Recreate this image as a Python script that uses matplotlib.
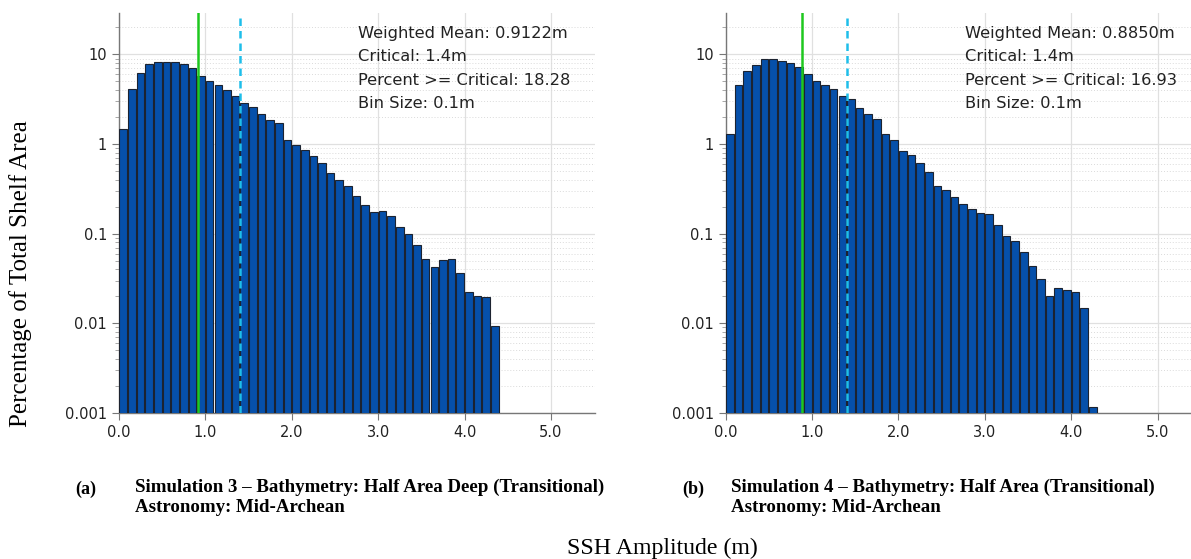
import numpy as np
import matplotlib
matplotlib.use("Agg")
import matplotlib.pyplot as plt
from matplotlib.ticker import LogLocator, FixedLocator, NullFormatter

# bin size 0.1 m, bars start at 0.0
bin_size = 0.1

# percent of total shelf area per bin
sim3_pct = [1.49, 4.11, 6.15, 7.75, 8.2, 8.2, 8.15, 7.87, 7.1, 5.74,
            5.01, 4.52, 4.04, 3.41, 2.87, 2.57, 2.16, 1.87, 1.70, 1.11,
            0.967, 0.85, 0.746, 0.623, 0.479, 0.393, 0.34, 0.267, 0.21, 0.174,
            0.18, 0.156, 0.12, 0.0997, 0.075, 0.0516, 0.043, 0.0507, 0.0516, 0.036,
            0.0221, 0.020, 0.0198, 0.0093]
sim4_pct = [1.31, 4.59, 6.58, 7.54, 8.79, 8.79, 8.5, 8.08, 7.16, 6.04,
            5.0, 4.55, 4.14, 3.46, 3.2, 2.54, 2.18, 1.93, 1.30, 1.11,
            0.835, 0.754, 0.623, 0.494, 0.345, 0.311, 0.256, 0.216, 0.19, 0.17,
            0.164, 0.124, 0.095, 0.083, 0.063, 0.0435, 0.031, 0.0201, 0.0249, 0.0234,
            0.0226, 0.015, 0.00118]

weighted_mean = [0.9122, 0.8850]
critical = 1.4
pct_above = [18.28, 16.93]

panel_tags = ["(a)", "(b)"]
captions = ["Simulation 3 \u2013 Bathymetry: Half Area Deep (Transitional)\nAstronomy: Mid-Archean",
            "Simulation 4 \u2013 Bathymetry: Half Area (Transitional)\nAstronomy: Mid-Archean"]

BAR = "#0650aa"
GREEN = "#1ec81e"
CYAN = "#1ebeea"

fig = plt.figure(figsize=(11.91, 5.59), dpi=100)
ax_pos = [[0.0999, 0.2612, 0.3997, 0.7155],
          [0.6093, 0.2612, 0.3997, 0.7155]]
tag_x = [0.063, 0.573]
cap_x = [0.1134, 0.6138]

for i, pct in enumerate([sim3_pct, sim4_pct]):
    ax = fig.add_axes(ax_pos[i])
    left = np.arange(len(pct)) * bin_size
    ax.bar(left + bin_size / 2, pct, width=bin_size * 0.88,
           color=BAR, edgecolor="#1c2330", linewidth=0.8, zorder=3)
    ax.axvline(weighted_mean[i], color=GREEN, lw=1.8, zorder=4)
    ax.axvline(critical, color=CYAN, lw=1.8, ls=(0, (3, 2)), zorder=4)

    ax.set_yscale("log")
    ax.set_ylim(0.001, 29)
    ax.set_xlim(0, 5.51)
    ax.set_xticks([0, 1, 2, 3, 4, 5])
    ax.set_xticklabels(["0.0", "1.0", "2.0", "3.0", "4.0", "5.0"])
    ax.yaxis.set_major_locator(FixedLocator([0.001, 0.01, 0.1, 1, 10]))
    ax.set_yticklabels(["0.001", "0.01", "0.1", "1", "10"])
    ax.yaxis.set_minor_locator(LogLocator(base=10, subs=np.arange(2, 10)))
    ax.yaxis.set_minor_formatter(NullFormatter())

    ax.grid(True, which="major", color="#e0e0e0", lw=0.9, zorder=0)
    ax.grid(True, which="minor", axis="y", color="#dadada", lw=0.7,
            ls=(0, (1, 2)), zorder=0)
    for s in ["top", "right"]:
        ax.spines[s].set_visible(False)
    for s in ["left", "bottom"]:
        ax.spines[s].set_color("#777777")
        ax.spines[s].set_linewidth(1.0)
    ax.tick_params(axis="both", which="major", labelsize=10.5,
                   colors="#777777", labelcolor="#222222", length=5)
    ax.tick_params(axis="y", which="minor", colors="#999999", length=3)

    txt = (f"Weighted Mean: {weighted_mean[i]:.4f}m\n"
           f"Critical: {critical}m\n"
           f"Percent >= Critical: {pct_above[i]:.2f}\n"
           f"Bin Size: {bin_size}m")
    ax.text(0.502, 0.968, txt, transform=ax.transAxes, ha="left", va="top",
            fontsize=11.7, color="#222222", linespacing=1.70, zorder=5)

    fig.text(tag_x[i], 1 - 489 / 559, panel_tags[i], family="Liberation Serif",
             weight="bold", fontsize=13, ha="left", va="center")
    fig.text(cap_x[i], 1 - 479 / 559, captions[i],
             family="Liberation Serif", weight="bold", fontsize=13.6,
             ha="left", va="top", linespacing=1.18)

fig.text(0.017, 0.51, "Percentage of Total Shelf Area", family="Liberation Serif",
         fontsize=18, rotation=90, ha="center", va="center")
fig.text(0.556, 1 - 548 / 559, "SSH Amplitude (m)", family="Liberation Serif",
         fontsize=17.2, ha="center", va="center")

fig.savefig("out.png", dpi=100)
